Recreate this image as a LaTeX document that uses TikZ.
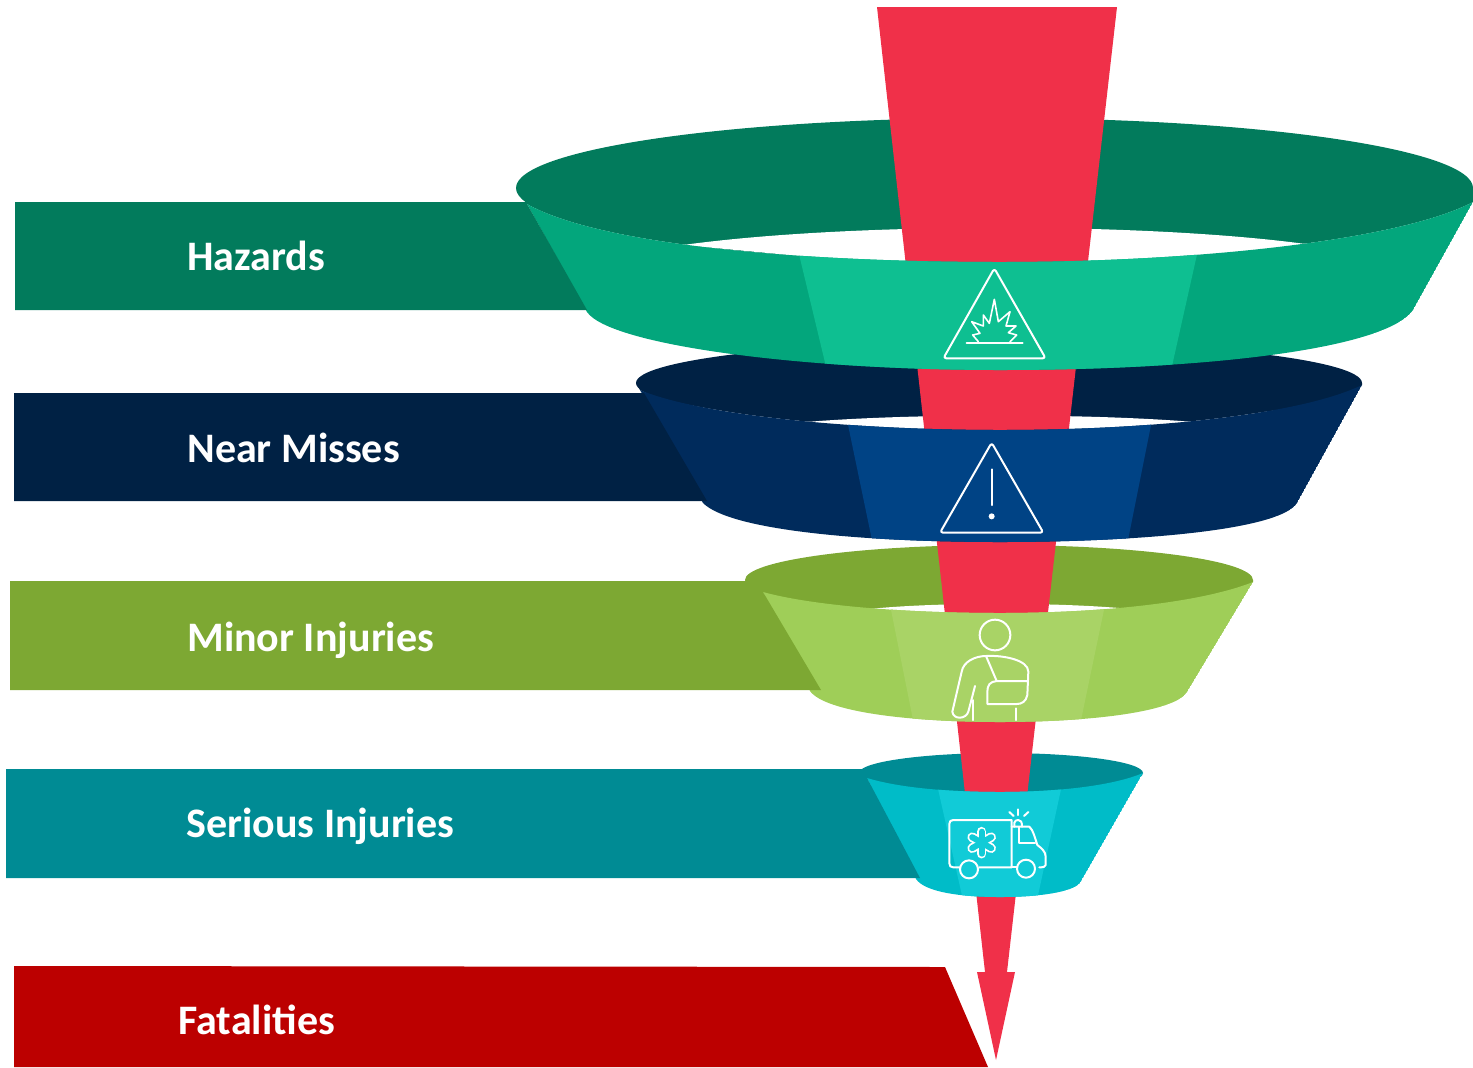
\documentclass[tikz,border=0pt]{standalone}
\usepackage{fontspec}
\setmainfont{Carlito}
\definecolor{redc}{HTML}{F03049}
\definecolor{ha}{HTML}{027B5C}\definecolor{hb}{HTML}{03A67C}\definecolor{hc}{HTML}{0EBF91}
\definecolor{na}{HTML}{002144}\definecolor{nb}{HTML}{002B5C}\definecolor{nc}{HTML}{004385}
\definecolor{ma}{HTML}{7DA833}\definecolor{mb}{HTML}{9FCE58}\definecolor{mc}{HTML}{A9D366}
\definecolor{sa}{HTML}{008B94}\definecolor{sb}{HTML}{00BCC8}\definecolor{sc}{HTML}{11CBD7}
\definecolor{fa}{HTML}{BC0000}
\tikzset{
  barlabel/.style={anchor=base west,text=white,font=\bfseries\fontsize{21}{21}\selectfont,inner sep=0pt},
  icon/.style={draw=white,line width=1pt,line join=round,line cap=round},
  zoomA/.style={shift={(900,240)},x=0.1666667pt,y=-0.1666667pt},
  zoomB/.style={shift={(900,600)},x=0.1666667pt,y=-0.1666667pt}
}
\newcommand{\frontband}[3]{%
  \begin{scope}
    \clip #3;
    \fill[#1] #3;
    #2
  \end{scope}}
\begin{document}
\begin{tikzpicture}[x=0.5pt,y=-0.5pt]
\useasboundingbox (0,0) rectangle (1473,1067);
% back rings
\fill[sa] (1001,773) ellipse [x radius=142,y radius=20];
\fill[sa] (867,778) .. controls (900,788) and (950,792) .. (1000,792) .. controls (1050,792) and (1110,787) .. (1143,773) -- (859,773) -- cycle;
\fill[ma] (999,580) ellipse [x radius=254,y radius=35];
\fill[ma] (763,592) .. controls (810,605) and (900,613) .. (1000,613) .. controls (1100,613) and (1200,603) .. (1253,582) -- (1253,580) -- (745,580) -- cycle;
\fill[na] (999,383) ellipse [x radius=363,y radius=42];
\fill[na] (640,390) .. controls (700,415) and (850,430) .. (1000,430) .. controls (1150,430) and (1300,415) .. (1362,385) -- (1362,383) -- (636,383) -- cycle;
\fill[ha] (994.5,188) ellipse [x radius=478.5,y radius=70];
\fill[ha] (527,204) .. controls (600,245) and (800,262) .. (1000,262) .. controls (1200,262) and (1400,240) .. (1473,202) -- (1473,188) -- (516,188) -- cycle;
% holes
\fill[white] (865,609.5) .. controls (930,602) and (1060,602) .. (1130,609) -- (1000,625) -- cycle;
\fill[white] (795,423) .. controls (900,413) and (1100,413) .. (1205,423) -- (1000,445) -- cycle;
\fill[white] (683,245) .. controls (850,222) and (1150,222) .. (1313,245) -- (1000,275) -- cycle;
% red spear
\fill[redc] (877,7) -- (1117,7) -- (1007,972) -- (1015,972) -- (996,1060) -- (977,972) -- (985,972) -- cycle;
% front bands
\frontband{sb}{\fill[sc] (936,780) -- (963,900) -- (1037,900) -- (1063,780) -- cycle;}
 {(867,778) .. controls (900,788) and (950,792) .. (1000,792) .. controls (1050,792) and (1110,787) .. (1143,773) -- (1080,883) .. controls (1072,892) and (1040,897) .. (1000,897) .. controls (960,897) and (925,892) .. (916,879) -- cycle}
\frontband{mb}{\fill[mc] (890,605) -- (914,725) -- (1080,725) -- (1105,605) -- cycle;}
 {(763,592) .. controls (810,605) and (900,613) .. (1000,613) .. controls (1100,613) and (1200,603) .. (1253,582) -- (1187,692) .. controls (1175,712) and (1090,722) .. (1000,722) .. controls (910,722) and (825,712) .. (810,691) -- cycle}
\frontband{nb}{\fill[nc] (847,420) -- (873,545) -- (1127,545) -- (1152,420) -- cycle;}
 {(640,390) .. controls (700,415) and (850,430) .. (1000,430) .. controls (1150,430) and (1300,415) .. (1362,385) -- (1297,503) .. controls (1280,530) and (1140,542) .. (1000,542) .. controls (860,542) and (730,530) .. (703,503) -- cycle}
\frontband{hb}{\fill[hc] (798,250) -- (828,375) -- (1170,375) -- (1198,250) -- cycle;}
 {(527,204) .. controls (600,245) and (800,262) .. (1000,262) .. controls (1200,262) and (1400,240) .. (1473,202) -- (1413,310) .. controls (1385,350) and (1200,370) .. (1000,370) .. controls (800,370) and (610,345) .. (587,312) -- cycle}
% bars
\fill[ha] (15,202) -- (527,202) -- (527,204) -- (587,310) -- (15,310) -- cycle;
\fill[na] (14,393) -- (644,393) -- (707,501) -- (14,501) -- cycle;
\fill[ma] (10,581) -- (760,581) -- (763,592) -- (821,690) -- (10,690) -- cycle;
\fill[sa] (6,769) -- (865,769) -- (867,778) -- (920,878) -- (6,878) -- cycle;
\fill[fa] (14,966) -- (945,967) -- (988,1067) -- (14,1067) -- cycle;
% labels
\node[barlabel] (hazards) at (187,270) {Hazards};
\node[barlabel] (near) at (187,462) {Near Misses};
\node[barlabel] (minor) at (187,651) {Minor Injuries};
\node[barlabel] (serious) at (186,837) {Serious Injuries};
\node[barlabel] (fatal) at (178,1034) {Fatalities};
% explosion and warning icons
\begin{scope}[zoomA]
  \draw[icon,rounded corners=1.5pt] (283,85) -- (130,355) -- (437,355) -- cycle;
  \draw[icon] (200,308) -- (368,308);
  \draw[icon,line width=0.8pt] (235,305) -- (218,285) -- (240,280) -- (215,245) -- (250,258) -- (250,225) -- (268,250) -- (283,178) -- (295,245) -- (330,215) -- (318,258) -- (348,258) -- (325,278) -- (350,285) -- (330,305);
  \draw[icon,rounded corners=1.5pt] (275,608) -- (120,878) -- (430,878) -- cycle;
  \draw[icon] (275,688) -- (275,795);
  \fill[white] (275,829) circle [radius=9];
\end{scope}
% person icon
\begin{scope}[zoomB]
  \draw[icon] (285,105) circle [radius=46];
  \draw[icon] (225,258) -- (205,335) .. controls (198,358) and (160,360) .. (157,335) -- (185,215) .. controls (190,185) and (225,168) .. (258,168) .. controls (310,165) and (385,180) .. (385,215) -- (382,285) .. controls (378,305) and (365,312) .. (350,312) -- (262,312) -- (262,275) .. controls (262,255) and (270,245) .. (290,243) -- (383,243);
  \draw[icon] (258,168) -- (290,243);
  \draw[icon] (220,300) -- (220,360);
  \draw[icon] (348,325) -- (348,360);
\end{scope}
% ambulance icon
\begin{scope}[zoomB]
  \draw[icon] (180,802) -- (160,802) .. controls (152,802) and (148,798) .. (148,790) -- (148,672) .. controls (148,664) and (152,660) .. (160,660) -- (335,660) -- (335,802) -- (238,802);
  \draw[icon] (207,808) circle [radius=27];
  \draw[icon] (378,806) circle [radius=27];
  \draw[icon] (335,802) -- (350,802);
  \draw[icon] (335,680) -- (388,680) .. controls (400,690) and (405,715) .. (412,735) .. controls (425,745) and (437,755) .. (437,770) -- (437,795) .. controls (437,800) and (430,802) .. (418,802);
  \draw[icon] (358,682) -- (358,730) -- (405,730);
  \draw[icon] (343,680) -- (343,668) .. controls (343,662) and (350,660) .. (355,660) .. controls (362,660) and (366,665) .. (366,680);
  \draw[icon] (355,628) -- (355,645);
  \draw[icon] (328,636) -- (341,648);
  \draw[icon] (385,636) -- (372,648);
  % star of life
  \foreach \a in {0,60,120}{
    \draw[white,line width=4.8pt,line cap=round] (245,728) ++(\a+90:33) -- ++(\a+270:66);
  }
  \foreach \a in {0,60,120}{
    \draw[sc,line width=3pt,line cap=round] (245,728) ++(\a+90:33) -- ++(\a+270:66);
  }
\end{scope}
\end{tikzpicture}
\end{document}
